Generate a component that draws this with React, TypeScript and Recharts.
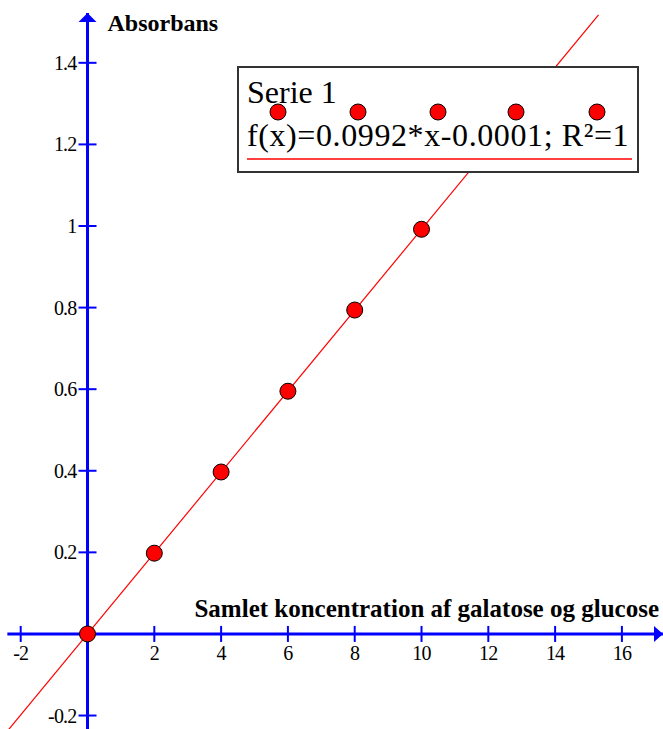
import {
  ComposedChart,
  XAxis,
  YAxis,
  Line,
  Scatter,
  ReferenceLine,
  ReferenceDot,
} from "recharts";

// measured points (x = samlet koncentration, y = absorbans)
const CONCENTRATION = [0, 2, 4, 6, 8, 10];
const ABSORBANCE = [0, 0.198, 0.397, 0.595, 0.794, 0.992];

// trend line from the legend
const SLOPE = 0.0992;
const INTERCEPT = -0.0001;
const FIT_RANGE = [-2.4, 15.3];

const X_TICKS = [-2, 2, 4, 6, 8, 10, 12, 14, 16];
const Y_TICKS = [-0.2, 0.2, 0.4, 0.6, 0.8, 1, 1.2, 1.4];

const X_DOMAIN = [-2.62, 17.23];
const Y_DOMAIN = [-0.233, 1.554];
const Y_TIP = 1.522;
const X_START = -2.4;

const BLUE = "#0000ff";
const RED = "#ff0000";
const SERIF = "'Liberation Serif', 'Times New Roman', serif";

const points = CONCENTRATION.map((x, i) => ({ x, y: ABSORBANCE[i] }));
const fitLine = FIT_RANGE.map((x) => ({ x, y: SLOPE * x + INTERCEPT }));

const xTick = (label: string) => (p: any) => (
  <g>
    <line x1={p.cx} x2={p.cx} y1={p.cy - 8} y2={p.cy + 8} stroke={BLUE} strokeWidth={2} />
    <text x={p.cx} y={p.cy + 26} textAnchor="middle" fontFamily={SERIF} fontSize={20} letterSpacing={-0.8} fill="#000">
      {label}
    </text>
  </g>
);

const yTick = (label: string) => (p: any) => (
  <g>
    <line x1={p.cx - 9} x2={p.cx + 9} y1={p.cy} y2={p.cy} stroke={BLUE} strokeWidth={2} />
    <text x={p.cx - 11} y={p.cy + 7} textAnchor="end" fontFamily={SERIF} fontSize={20} letterSpacing={-0.8} fill="#000">
      {label}
    </text>
  </g>
);

const yArrow = (p: any) => (
  <g>
    <polygon
      points={`${p.cx},${p.cy} ${p.cx - 9},${p.cy + 9} ${p.cx + 9},${p.cy + 9}`}
      fill={BLUE}
    />
    <text x={p.cx + 20} y={p.cy + 18} fontFamily={SERIF} fontWeight="bold" fontSize={24} fill="#000">
      Absorbans
    </text>
  </g>
);

const xArrow = (p: any) => (
  <g>
    <polygon
      points={`${p.cx},${p.cy} ${p.cx - 9},${p.cy - 8} ${p.cx - 9},${p.cy + 8}`}
      fill={BLUE}
    />
    <text x={p.cx - 4} y={p.cy - 17} textAnchor="end" fontFamily={SERIF} fontWeight="bold" fontSize={25} fill="#000">
      Samlet koncentration af galatose og glucose
    </text>
  </g>
);

const dot = (p: any) => (
  <circle cx={p.cx} cy={p.cy} r={8} fill={RED} stroke="#000" strokeWidth={1} />
);

function LegendBox() {
  const dotsX = [41, 121, 201, 279, 360];
  return (
    <svg
      width={402}
      height={107}
      style={{ position: "absolute", left: 237, top: 66 }}
    >
      <rect x={1} y={1} width={400} height={105} fill="#fff" stroke="#333" strokeWidth={2} />
      <text x={10} y={37} fontFamily={SERIF} fontSize={32} fill="#000">
        Serie 1
      </text>
      {dotsX.map((cx) => (
        <circle key={cx} cx={cx} cy={46} r={8} fill={RED} stroke="#000" strokeWidth={1} />
      ))}
      <text x={10} y={80} fontFamily={SERIF} fontSize={32} letterSpacing={0.6} fill="#000">
        f(x)=0.0992*x-0.0001; R²=1
      </text>
      <line x1={10} x2={395} y1={93} y2={93} stroke={RED} strokeWidth={1.5} />
    </svg>
  );
}

export default function App() {
  return (
    <div style={{ position: "absolute", left: 0, top: 0, width: 663, height: 729, background: "#fff" }}>
      <ComposedChart width={663} height={729} margin={{ top: 0, right: 0, bottom: 0, left: 0 }}>
        <XAxis type="number" dataKey="x" domain={X_DOMAIN} allowDataOverflow hide />
        <YAxis type="number" dataKey="y" domain={Y_DOMAIN} allowDataOverflow hide />

        <Line
          data={fitLine}
          dataKey="y"
          type="linear"
          stroke={RED}
          strokeWidth={1.2}
          dot={false}
          activeDot={false}
          isAnimationActive={false}
        />

        <ReferenceLine
          segment={[{ x: X_START, y: 0 }, { x: X_DOMAIN[1], y: 0 }]}
          stroke={BLUE}
          strokeWidth={3}
          ifOverflow="visible"
        />
        <ReferenceLine
          segment={[{ x: 0, y: Y_DOMAIN[0] }, { x: 0, y: Y_TIP }]}
          stroke={BLUE}
          strokeWidth={3}
          ifOverflow="visible"
        />
        {X_TICKS.map((v) => (
          <ReferenceDot key={"x" + v} x={v} y={0} r={0} shape={xTick(String(v))} ifOverflow="visible" />
        ))}
        {Y_TICKS.map((v) => (
          <ReferenceDot key={"y" + v} x={0} y={v} r={0} shape={yTick(String(v))} ifOverflow="visible" />
        ))}
        <ReferenceDot x={0} y={Y_TIP} r={0} shape={yArrow} ifOverflow="visible" />
        <ReferenceDot x={X_DOMAIN[1]} y={0} r={0} shape={xArrow} ifOverflow="visible" />

        <Scatter data={points} dataKey="y" shape={dot} isAnimationActive={false} />
      </ComposedChart>
      <LegendBox />
    </div>
  );
}
